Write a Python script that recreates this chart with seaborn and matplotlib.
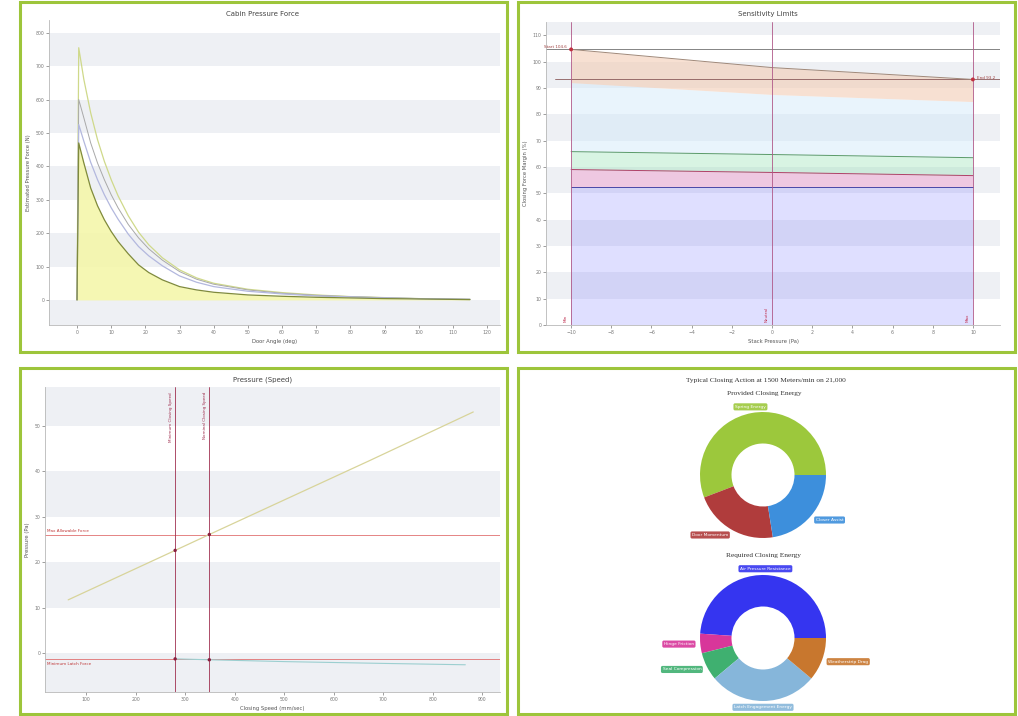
import matplotlib
matplotlib.use("Agg")
import matplotlib.pyplot as plt
import seaborn as sns
import numpy as np
from matplotlib.patches import Rectangle

# ---------------- data ----------------
# Panel 1: force vs door angle
door_angle = [0, 0.5, 2, 4, 6, 8, 10, 12, 15, 18, 21, 25, 30, 35, 40, 50, 60, 70, 80, 90, 100, 115]
force_a = [0, 755, 660, 560, 480, 415, 360, 312, 252, 203, 165, 126, 90, 66, 50, 32, 22, 15, 10, 7, 4, 2]
force_b = [0, 600, 545, 470, 410, 360, 315, 276, 226, 186, 153, 119, 85, 62, 47, 30, 20, 14, 10, 7, 4, 2]
force_c = [0, 525, 475, 412, 360, 315, 276, 242, 197, 160, 132, 102, 72, 53, 40, 26, 18, 12, 9, 6, 4, 2]
force_d = [0, 470, 410, 335, 282, 240, 205, 175, 138, 105, 82, 60, 40, 30, 23, 15, 11, 8, 6, 4, 3, 1]
p1_yticks = [0, 100, 200, 300, 400, 500, 600, 700, 800]
p1_xticks = [0, 10, 20, 30, 40, 50, 60, 70, 80, 90, 100, 110, 120]

# Panel 2: stacked sensitivity layers
stack_pressure = [-10, 0, 10]
layer_base = [52.3, 52.3, 52.3]
layer_pink = [6.7, 5.6, 4.4]
layer_green = [6.8, 6.8, 6.8]
layer_sky = [26.2, 22.8, 21.3]
layer_peach = [12.6, 10.2, 8.4]
p2_limits = [-10, 0, 10]
p2_limit_names = ["Min", "Neutral", "Max"]
p2_xticks = [-10, -8, -6, -4, -2, 0, 2, 4, 6, 8, 10]
p2_yticks = [0, 10, 20, 30, 40, 50, 60, 70, 80, 90, 100, 110]

# Panel 3: pressure vs speed
speed = [64, 280, 349, 500, 673, 882]
pressure = [11.7, 22.6, 26.1, 33.7, 42.4, 53.1]
speed_low = [280, 349, 500, 700, 866]
pressure_low = [-1.3, -1.5, -1.9, -2.3, -2.6]
p3_vlines = [280, 349]
p3_vline_names = ["Minimum Closing Speed", "Nominal Closing Speed"]
p3_hlines = [26.1, -1.3]
p3_hline_names = ["Max Allowable Force", "Minimum Latch Force"]
p3_xticks = [100, 200, 300, 400, 500, 600, 700, 800, 900]
p3_yticks = [0, 10, 20, 30, 40, 50]

# Panel 4: donuts
provided_names = ["Spring Energy", "Door Momentum", "Closer Assist"]
provided_vals = [55.8, 21.7, 22.5]
provided_cols = ["#9cc83c", "#b03c3c", "#3d8fdc"]
required_names = ["Air Pressure Resistance", "Hinge Friction", "Seal Compression", "Latch Engagement Energy", "Weatherstrip Drag"]
required_vals = [48.9, 5.0, 7.2, 27.8, 11.1]
required_cols = ["#3535f0", "#d8369a", "#3fb070", "#86b6da", "#c8772e"]

# ---------------- figure ----------------
sns.set_theme(style="white")
plt.rcParams['font.family'] = ['DejaVu Sans']
W, H = 1018, 716
fig = plt.figure(figsize=(W / 100, H / 100), dpi=100)
fig.patch.set_facecolor('white')
BAND = '#eef0f4'
TXT = '#555555'


def ax_at(x0, y0, x1, y1, **kw):
    return fig.add_axes([x0 / W, 1 - y1 / H, (x1 - x0) / W, (y1 - y0) / H], **kw)


def frame(x0, y0, x1, y1):
    fig.patches.append(Rectangle((x0 / W, 1 - y1 / H), (x1 - x0) / W, (y1 - y0) / H,
                                 transform=fig.transFigure, fill=False,
                                 edgecolor='#9dc53b', linewidth=2.2, zorder=10))


def ftext(x, y, s, **kw):
    fig.text(x / W, 1 - y / H, s, **kw)


def style(ax, xlim, ylim, xticks, yticks, bands):
    ax.set_facecolor('white')
    ax.set_xlim(*xlim)
    ax.set_ylim(*ylim)
    for s in ['top', 'right']:
        ax.spines[s].set_visible(False)
    for s in ['left', 'bottom']:
        ax.spines[s].set_color('#b8b8b8')
        ax.spines[s].set_linewidth(0.6)
    ax.set_xticks(xticks)
    ax.set_yticks(yticks)
    ax.tick_params(labelsize=3.3, colors='#777777', length=2, width=0.5, pad=1.5,
                   bottom=True, left=True)
    for a, b in bands:
        ax.axhspan(a, b, color=BAND, lw=0, zorder=0)
    ax.grid(False)


for fr in [(20, 2, 507, 352), (518, 2, 1015, 352), (20, 368, 507, 714), (518, 368, 1015, 714)]:
    frame(*fr)

# ---------------- panel 1 ----------------
ax1 = ax_at(49, 20, 500, 325)
style(ax1, (-8.2, 123.8), (-75, 838), p1_xticks, p1_yticks,
      [(-75, 0), (100, 200), (300, 400), (500, 600), (700, 800)])
ax1.fill_between(door_angle, force_d, color='#f4f6a6', alpha=0.85, lw=0, zorder=1)
sns.lineplot(x=door_angle, y=force_a, ax=ax1, color='#cfd98a', lw=0.9, zorder=3)
sns.lineplot(x=door_angle, y=force_b, ax=ax1, color='#a9a9a9', lw=0.7, zorder=3)
sns.lineplot(x=door_angle, y=force_c, ax=ax1, color='#b3b8de', lw=0.9, zorder=3)
sns.lineplot(x=door_angle, y=force_d, ax=ax1, color='#7f8a3c', lw=0.9, zorder=4)
ax1.set_xlabel("Door Angle (deg)", fontsize=3.8, color=TXT, labelpad=3)
ax1.set_ylabel("Estimated Pressure Force (N)", fontsize=3.8, color=TXT, labelpad=3)
ftext(263, 14, "Cabin Pressure Force", fontsize=5, color='#444444', ha='center', va='center')

# ---------------- panel 2 ----------------
ax2 = ax_at(546, 22, 1000, 325)
style(ax2, (-11.25, 11.35), (0, 115), p2_xticks, p2_yticks,
      [(10, 20), (30, 40), (50, 60), (70, 80), (90, 100), (110, 115)])
fills = ['#7070ff', '#f080c0', '#90e0b0', '#cfe8fa', '#f2c8ae']
alphas = [0.22, 0.35, 0.35, 0.45, 0.55]
edges = ['#4848a8', '#b04068', '#5a9a68', None, '#a08878']
layers = [layer_base, layer_pink, layer_green, layer_sky, layer_peach]
cum = np.zeros(len(stack_pressure))
for vals, fc, al, ec in zip(layers, fills, alphas, edges):
    top = cum + np.array(vals)
    ax2.fill_between(stack_pressure, cum, top, color=fc, alpha=al, lw=0, zorder=1)
    if ec:
        sns.lineplot(x=stack_pressure, y=top, ax=ax2, color=ec, lw=0.7, zorder=3)
    cum = top
for xv, nm in zip(p2_limits, p2_limit_names):
    ax2.axvline(xv, color='#b05888', lw=0.6, zorder=4)
    ax2.text(xv - 0.15, 1, nm, rotation=90, fontsize=3, color='#c03050', ha='right', va='bottom')
ax2.axhline(cum[0], color='#707070', lw=0.6, zorder=2)
ax2.axhline(cum[-1], xmin=0.02, color='#8a5a5a', lw=0.6, zorder=2)
sns.scatterplot(x=[stack_pressure[0], stack_pressure[-1]], y=[cum[0], cum[-1]], ax=ax2,
                color='#c03040', s=8, zorder=5, edgecolor='none')
ax2.text(stack_pressure[0] - 0.2, cum[0] + 0.8, "Start %.1f" % cum[0], fontsize=3,
         color='#a04040', ha='right', va='center')
ax2.text(stack_pressure[-1] + 0.2, cum[-1] + 0.5, "End %.1f" % cum[-1], fontsize=3,
         color='#a04040', ha='left', va='center')
ax2.set_xlabel("Stack Pressure (Pa)", fontsize=3.8, color=TXT, labelpad=3)
ax2.set_ylabel("Closing Force Margin (%)", fontsize=3.8, color=TXT, labelpad=3)
ftext(768, 14, "Sensitivity Limits", fontsize=5, color='#444444', ha='center', va='center')

# ---------------- panel 3 ----------------
ax3 = ax_at(45, 387, 500, 692)
style(ax3, (17.2, 936), (-8.6, 58.6), p3_xticks, p3_yticks,
      [(-8.6, 0), (10, 20), (30, 40), (50, 58.6)])
for yv, nm, dy, va in zip(p3_hlines, p3_hline_names, [0.4, -0.6], ['bottom', 'top']):
    ax3.axhline(yv, color='#e07070', lw=0.6, zorder=2)
    ax3.text(22, yv + dy, nm, fontsize=3, color='#c03838', ha='left', va=va)
for xv, nm in zip(p3_vlines, p3_vline_names):
    ax3.axvline(xv, color='#a03050', lw=0.6, zorder=2)
    ax3.text(xv - 4, 57.5, nm, rotation=90, fontsize=3, color='#a03050', ha='right', va='top')
sns.lineplot(x=speed, y=pressure, ax=ax3, color='#d8d49a', lw=0.9, zorder=3)
sns.lineplot(x=speed_low, y=pressure_low, ax=ax3, color='#9ccfd0', lw=0.8, zorder=3)
sns.scatterplot(x=p3_vlines + p3_vlines, y=[pressure[1], pressure[2]] + [pressure_low[0], pressure_low[1]],
                ax=ax3, color='#8a2040', s=6, zorder=5, edgecolor='none')
ax3.set_xlabel("Closing Speed (mm/sec)", fontsize=3.8, color=TXT, labelpad=3)
ax3.set_ylabel("Pressure (Pa)", fontsize=3.8, color=TXT, labelpad=3)
ftext(263, 380, "Pressure (Speed)", fontsize=5, color='#444444', ha='center', va='center')

# ---------------- panel 4 ----------------
ftext(766, 380, "Typical Closing Action at 1500 Meters/min on 21,000", fontsize=5.3,
      family='Liberation Serif', color='#333333', ha='center', va='center')
ftext(764, 394, "Provided Closing Energy", fontsize=5.3, family='Liberation Serif',
      color='#333333', ha='center', va='center')
ftext(764, 555, "Required Closing Energy", fontsize=5.3, family='Liberation Serif',
      color='#333333', ha='center', va='center')


def donut(box, vals, cols, names):
    ax = ax_at(*box)
    wedges, _ = ax.pie(vals, colors=cols, startangle=0, counterclock=True, radius=1.0,
                       wedgeprops=dict(width=0.5, edgecolor='none', linewidth=0))
    ax.set_xlim(-1, 1)
    ax.set_ylim(-1, 1)
    ax.set_aspect('equal')
    ax.axis('off')
    for w, nm, c in zip(wedges, names, cols):
        ang = np.deg2rad((w.theta1 + w.theta2) / 2)
        cx, cy = np.cos(ang), np.sin(ang)
        ha = 'left' if cx > 0.3 else ('right' if cx < -0.3 else 'center')
        r = 1.1
        ax.text(r * cx, r * cy, nm, fontsize=3.2, color='white', ha=ha, va='center',
                bbox=dict(boxstyle='round,pad=0.35', fc=c, ec='none', alpha=0.9))
    return ax


donut((700, 412, 826, 538), provided_vals, provided_cols, provided_names)
donut((700, 575, 826, 701), required_vals, required_cols, required_names)

fig.savefig("out.png", dpi=100, facecolor='white')
